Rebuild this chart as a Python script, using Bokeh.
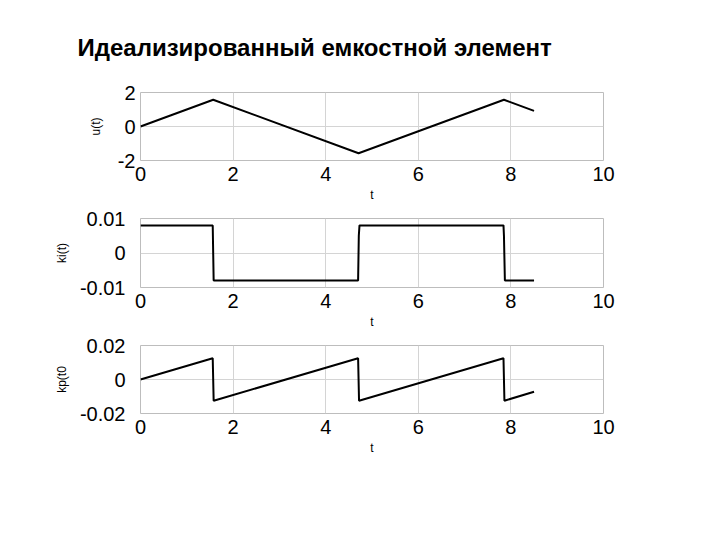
from bokeh.plotting import figure
from bokeh.layouts import column
from bokeh.models import Range1d, FixedTicker
from bokeh.embed import file_html
from bokeh.resources import INLINE

title_text = "Идеализированный емкостной элемент"

# u(t)
t_u = [0, 1.57, 4.71, 7.85, 8.5]
u_vals = [0, 1.57, -1.57, 1.57, 0.92]

# ki(t)
t_ki = [0, 1.56, 1.58, 4.70, 4.715, 4.73, 7.84, 7.85, 7.87, 8.5]
ki_vals = [0.008, 0.008, -0.008, -0.008, 0.005, 0.008, 0.008, 0.005, -0.008, -0.008]

# kp(t)
t_kp = [0, 1.56, 1.58, 4.70, 4.72, 7.84, 7.86, 8.5]
kp_vals = [0, 0.0125, -0.0125, 0.0125, -0.0125, 0.0125, -0.0125, -0.0072]

x_ticks = [0, 2, 4, 6, 8, 10]
panels = [
    ("u(t)", t_u, u_vals, (-2, 2), [-2, 0, 2]),
    ("ki(t)", t_ki, ki_vals, (-0.01, 0.01), [-0.01, 0, 0.01]),
    ("kp(t0", t_kp, kp_vals, (-0.02, 0.02), [-0.02, 0, 0.02]),
]
frame_h = [69, 70, 69]
tops = [92, 14, 14]
ylabel_standoff = [5, 15, 15]
yaxis_label_standoff = [12, 8, 8]

FONT = "Liberation Sans"
figs = []
for i, (ylab, tx, ty, yr, yt) in enumerate(panels):
    top = tops[i]
    p = figure(width=140 + 463 + 20, height=top + frame_h[i] + 43, output_backend="svg",
               toolbar_location=None, x_range=Range1d(0, 10),
               y_range=Range1d(*yr), min_border_left=140, min_border_right=20,
               min_border_top=top, min_border_bottom=43)
    if i == 0:
        p.title.text = title_text
        p.title.text_font = FONT
        p.title.text_font_size = "24px"
        p.title.text_font_style = "bold"
        p.title.offset = -63
        p.title.padding = dict(left=0, right=0, top=0, bottom=27)
        p.title.text_color = "black"
    p.line(tx, ty, line_color="black", line_width=2)
    p.xaxis.ticker = FixedTicker(ticks=x_ticks)
    p.yaxis.ticker = FixedTicker(ticks=yt)
    p.yaxis.major_label_overrides = {v: ("0" if v == 0 else f"{v:g}") for v in yt}
    for ax in (p.xaxis, p.yaxis):
        ax.major_label_text_font = FONT
        ax.major_label_text_font_size = "20px"
        ax.major_label_text_color = "black"
        ax.axis_line_color = None
        ax.major_tick_out = 0
        ax.major_tick_in = 0
        ax.minor_tick_out = 0
        ax.minor_tick_in = 0
        ax.axis_label_text_font = FONT
        ax.axis_label_text_font_size = "12px"
        ax.axis_label_text_font_style = "normal"
        ax.axis_label_text_color = "black"
    p.xaxis.axis_label = "t"
    p.yaxis.axis_label = ylab
    p.xaxis.major_label_standoff = 6
    p.xaxis.axis_label_standoff = 4
    p.yaxis.major_label_standoff = ylabel_standoff[i]
    p.yaxis.axis_label_standoff = yaxis_label_standoff[i]
    p.xgrid.grid_line_color = "#d4d4d4"
    p.ygrid.grid_line_color = "#d4d4d4"
    p.outline_line_color = "#bdbdbd"
    p.outline_line_width = 1
    figs.append(p)

layout = column(*figs, spacing=0)
open("out.html", "w").write(file_html(layout, INLINE))
